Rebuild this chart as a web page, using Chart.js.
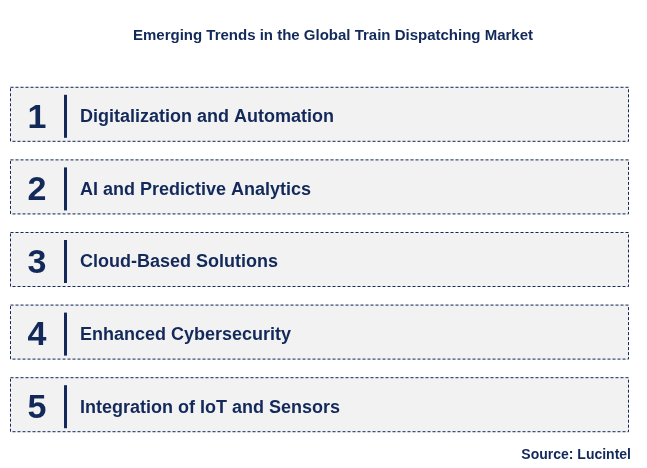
<!DOCTYPE html>
<html>
<head>
<meta charset="utf-8">
<script src="https://cdn.jsdelivr.net/npm/chart.js@4"></script>
<style>
  html, body { margin: 0; padding: 0; background: #fff; }
  #wrap { width: 647px; height: 468px; position: relative; }
</style>
</head>
<body>
<div id="wrap"><canvas id="chart"></canvas></div>
<script>
const title = 'Emerging Trends in the Global Train Dispatching Market';
const numbers = ['1', '2', '3', '4', '5'];
const trends = [
  'Digitalization and Automation',
  'AI and Predictive Analytics',
  'Cloud-Based Solutions',
  'Enhanced Cybersecurity',
  'Integration of IoT and Sensors'
];
const spans = [[0, 1], [0, 1], [0, 1], [0, 1], [0, 1]];
const source = 'Source: Lucintel';

const navy = '#12295a';

// Draw the dashed boxes, number, divider and label over each bar
const listPlugin = {
  id: 'listPlugin',
  afterDatasetsDraw(chart) {
    const ctx = chart.ctx;
    const meta = chart.getDatasetMeta(0);
    ctx.save();
    meta.data.forEach((bar, i) => {
      const { x, y, base, height } = bar.getProps(['x', 'y', 'base', 'height'], true);
      const left = Math.min(x, base), right = Math.max(x, base);
      const top = y - height / 2;

      ctx.setLineDash([3, 2]);
      ctx.strokeStyle = navy;
      ctx.lineWidth = 1;
      ctx.strokeRect(left + 0.5, top + 0.5, right - left - 1, height - 1);
      ctx.setLineDash([]);

      ctx.fillStyle = navy;
      ctx.textBaseline = 'middle';
      ctx.textAlign = 'center';
      ctx.font = 'bold 34px "Liberation Sans", Arial, sans-serif';
      ctx.fillText(numbers[i], left + 27, y + 4);

      ctx.fillRect(left + 54, top + 8, 3, height - 12);

      ctx.textAlign = 'left';
      ctx.font = 'bold 18px "Liberation Sans", Arial, sans-serif';
      ctx.fillText(trends[i], left + 70, y + 3);
    });

    ctx.textAlign = 'center';
    ctx.textBaseline = 'middle';
    ctx.font = 'bold 15px "Liberation Sans", Arial, sans-serif';
    ctx.fillText(title, 333, 36);

    ctx.textAlign = 'right';
    ctx.font = 'bold 14px "Liberation Sans", Arial, sans-serif';
    ctx.fillText(source, 631, 455);
    ctx.restore();
  }
};

new Chart(document.getElementById('chart'), {
  type: 'bar',
  data: {
    labels: numbers,
    datasets: [{
      data: spans,
      backgroundColor: '#f2f2f2',
      borderWidth: 0,
      barThickness: 55
    }]
  },
  options: {
    indexAxis: 'y',
    responsive: true,
    maintainAspectRatio: false,
    animation: false,
    layout: { padding: { left: 10, right: 18, top: 78, bottom: 27 } },
    plugins: {
      legend: { display: false },
      tooltip: { enabled: false }
    },
    scales: {
      x: { display: false, min: 0, max: 1 },
      y: { display: false }
    }
  },
  plugins: [listPlugin]
});
</script>
</body>
</html>
